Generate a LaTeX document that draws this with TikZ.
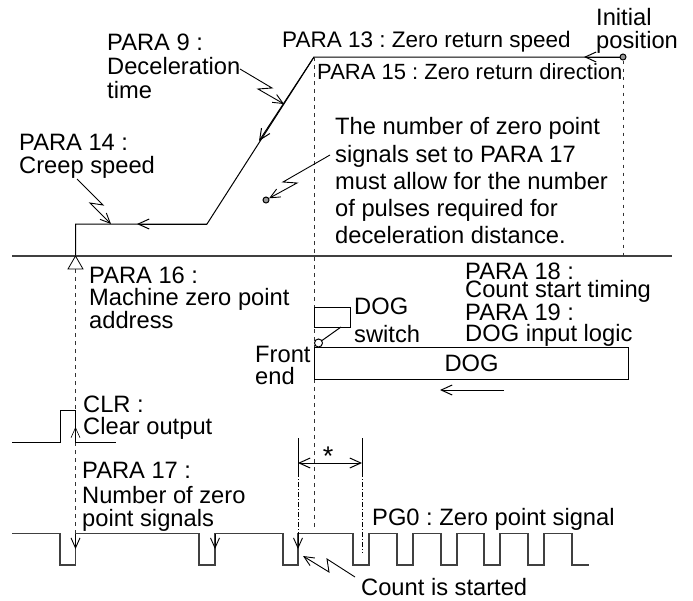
\documentclass[tikz,border=0pt]{standalone}
\usepackage{fontspec}
\setmainfont{Liberation Sans}
\usetikzlibrary{arrows.meta, positioning, calc}
\frenchspacing

\begin{document}
\begin{tikzpicture}[
    x=1pt, y=-1pt,
    label/.style={anchor=base west, inner sep=0pt, align=left, font=\fontsize{23.7}{26}\selectfont},
    wire/.style={line width=1pt},
    level/.style={line width=1.2pt, draw=black!75},
    leader/.style={line width=0.9pt, -{Straight Barb[length=10pt, width=9pt]}},
    flow/.style={line width=1pt, -{Straight Barb[length=11pt, width=10pt]}},
    guide/.style={line width=0.9pt, dash pattern=on 4pt off 4pt, draw=black!80},
    chain/.style={line width=0.7pt, dash pattern=on 5pt off 2pt on 1pt off 2pt},
    marker/.style={circle, draw, line width=1pt, fill=black!40, inner sep=0pt, minimum size=6pt}
]
    \useasboundingbox (0,0) rectangle (693,600);

    % speed profile
    \node[marker] (start) at (623,57) {};
    \node[marker] (mark) at (266,200) {};
    \coordinate (top) at (314,57);
    \coordinate (slopetip) at (259,141);
    \coordinate (foot) at (207,224);
    \coordinate (creeptip) at (137,224);
    \coordinate (corner) at (75.5,224);
    \coordinate (zero) at (75.5,256);
    \draw[wire] (start) -- (top) -- (foot) -- (corner) -- (zero);
    \draw[flow] (start) -- (584,57);
    \draw[flow] (top) -- (slopetip);
    \draw[flow] (foot) -- (creeptip);

    % axis
    \draw[level] (12,256) -- (672,256);
    \draw[line width=0.8pt] (zero) -- (83,269) -- (68,269) -- cycle;

    % guides
    \coordinate (cleartip) at (75.5,427);
    \coordinate (pulsetip) at (75.5,549);
    \draw[guide] (75.5,269) -- (75.5,410);
    \draw[guide] (75.5,442) -- (75.5,533);
    \draw[guide] (top) -- (314,347);
    \draw[guide] (314,379) -- (314,530);
    \draw[guide, dash pattern=on 3pt off 5pt] (start) -- (623,256);

    % labels
    \node[label] (para9) at (107,50) {PARA 9 :};
    \node[label] (decel) at (107,74) {Deceleration};
    \node[label] (decelb) at (107,98) {time};
    \node[label] (para14) at (19,150) {PARA 14 :};
    \node[label] (creep) at (19,173) {Creep speed};
    \node[label, font=\fontsize{22.5}{26}\selectfont] (para13) at (282,47) {PARA 13 : Zero return speed};
    \node[label] (initial) at (596,25) {Initial};
    \node[label] (position) at (596,48) {position};
    \node[label, font=\fontsize{22}{26}\selectfont] (para15) at (317,79) {PARA 15 : Zero return direction};
    \node[label] (notea) at (335,134) {The number of zero point};
    \node[label] (noteb) at (335,162) {signals set to PARA 17};
    \node[label] (notec) at (335,189) {must allow for the number};
    \node[label] (noted) at (335,216) {of pulses required for};
    \node[label] (notee) at (335,243) {deceleration distance.};
    \node[label] (para16) at (89,283) {PARA 16 :};
    \node[label] (machine) at (89,305) {Machine zero point};
    \node[label] (address) at (89,328) {address};
    \node[label] (para18) at (465,279) {PARA 18 :};
    \node[label] (timing) at (465,297) {Count start timing};
    \node[label] (para19) at (465,320) {PARA 19 :};
    \node[label] (logic) at (465,341) {DOG input logic};
    \node[label] (dogname) at (354,314) {DOG};
    \node[label] (switch) at (354,342) {switch};
    \node[label] (front) at (255,362) {Front};
    \node[label] (end) at (255,384) {end};
    \node[label] (clr) at (83,412) {CLR :};
    \node[label] (clear) at (83,434) {Clear output};
    \node[label] (para17) at (82,478) {PARA 17 :};
    \node[label] (numzero) at (82,503) {Number of zero};
    \node[label] (signals) at (82,526) {point signals};
    \node[label] (pgzero) at (372,525) {PG0 : Zero point signal};
    \node[label] (count) at (361,595) {Count is started};
    \node[label, anchor=center, font=\fontsize{27}{27}\selectfont] (star) at (328,456) {*};

    % dog and switch
    \node[draw, wire, minimum width=314pt, minimum height=32pt, inner sep=0pt, anchor=north west,
        font=\fontsize{23.7}{26}\selectfont] (dog) at (314,347) {DOG};
    \node[draw, wire, minimum width=36pt, minimum height=20pt, inner sep=0pt, anchor=north west] (switchbox) at (314,307) {};
    \node[circle, draw, wire, fill=white, inner sep=0pt, minimum size=8pt] (roller) at (318.5,343) {};
    \draw[wire] (roller) -- (341,327);
    \coordinate (dogtail) at (504,390);
    \coordinate (doghead) at (440,390);
    \draw[flow] (dogtail) -- (doghead);

    % clear output
    \draw[wire] (12,442) -- (60,442) -- (60,410) -- (75.5,410) -- (75.5,442) -- (116,442);
    \draw[leader, line width=0.6pt] (75.5,442) -- (cleartip);

    % zero point signal
    \draw[level] (12,533.5) -- (60,533.5) -- (60,565) -- (75.5,565) -- (75.5,533.5)
        -- (199,533.5) -- (199,565) -- (215,565) -- (215,533.5)
        -- (283,533.5) -- (283,565) -- (298,565) -- (298,533.5)
        -- (353,533.5) -- (353,565) -- (369,565) -- (369,533.5)
        -- (397,533.5) -- (397,565) -- (413,565) -- (413,533.5)
        -- (441,533.5) -- (441,565) -- (457,565) -- (457,533.5)
        -- (484,533.5) -- (484,565) -- (500,565) -- (500,533.5)
        -- (528,533.5) -- (528,565) -- (544,565) -- (544,533.5)
        -- (572,533.5) -- (572,565) -- (588.5,565);
    \draw[leader] (75.5,533.5) -- (pulsetip);
    \draw[leader] (215,533.5) -- (215,549);
    \draw[leader] (298,533.5) -- (298,549);

    % count window
    \coordinate (winl) at (298,463);
    \coordinate (winr) at (362,463);
    \draw[wire, line width=0.7pt] (298,438) -- (298,472);
    \draw[wire, line width=0.7pt] (362,438) -- (362,472);
    \draw[flow, {Straight Barb[length=11pt, width=10pt]}-{Straight Barb[length=11pt, width=10pt]}] (winl) -- (winr);
    \draw[chain] (298,472) -- (298,533.5);
    \draw[chain] (362,472) -- (362,553);

    % leaders
    \coordinate (decelfrom) at (240,69);
    \draw[leader] (decelfrom) -- (272,88) -- (258,89) -- (284,104);
    \draw[leader] (77,179) -- (103,205) -- (90,203) -- (111,224);
    \draw[leader] (330,155) -- (283,182) -- (297,183) -- (mark);
    \draw[leader] (355,577) -- (327,559) -- (329,572) -- (303,556);
\end{tikzpicture}
\end{document}
